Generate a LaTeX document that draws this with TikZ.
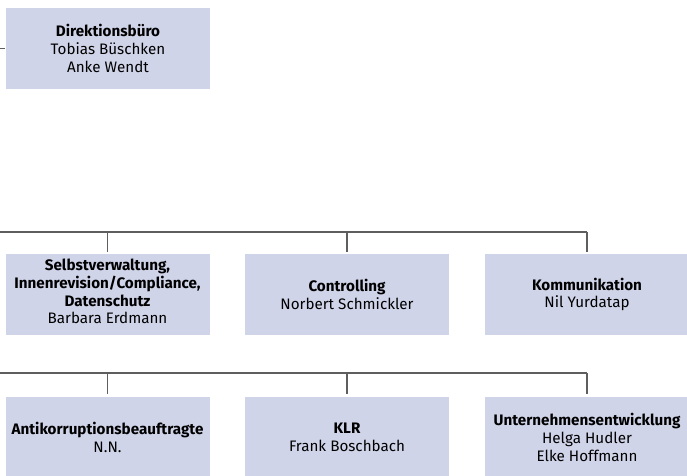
\documentclass[tikz,border=0pt]{standalone}
\usepackage{fontspec}
\setmainfont{Fira Sans}
\definecolor{boxfill}{HTML}{D0D4E9}
\definecolor{linegray}{HTML}{5E5E5E}
\begin{document}
\begin{tikzpicture}[x=1pt,y=-1pt,
  orgbox/.style={fill=boxfill, minimum width=204pt, minimum height=81pt, inner sep=0pt, align=center, font=\fontsize{15.2}{17.8}\selectfont},
  conn/.style={draw=linegray, line width=1.2pt}]
\useasboundingbox (0,0) rectangle (687,475);
\node[orgbox] (dir) at (108,48.5) {\textbf{Direktionsbüro}\\Tobias Büschken\\Anke Wendt};
\node[orgbox, text depth=6pt] (sv) at (107.5,294.5) {\textbf{Selbstverwaltung,}\\\textbf{Innenrevision/Compliance,}\\\textbf{Datenschutz}\\Barbara Erdmann};
\node[orgbox] (co) at (347,294.5) {\textbf{Controlling}\\Norbert Schmickler};
\node[orgbox] (ko) at (587,294.5) {\textbf{Kommunikation}\\Nil Yurdatap};
\node[orgbox] (ak) at (107.5,437.5) {\textbf{Antikorruptionsbeauftragte}\\N.N.};
\node[orgbox] (klr) at (347,437.5) {\textbf{KLR}\\Frank Boschbach};
\node[orgbox] (ue) at (587,437.5) {\textbf{Unternehmensentwicklung}\\Helga Hudler\\Elke Hoffmann};
\coordinate (dstub) at (0,48.5);
\coordinate (l2) at (0,232);
\coordinate (l3) at (0,373);
\draw[conn, shorten >=1pt] (dstub) -- (dir.west);
\draw[conn] (l2) -- (sv.north |- l2) -- (co.north |- l2) -- (ko.north |- l2);
\draw[conn, shorten >=2pt] (sv.north |- l2) -- (sv.north);
\draw[conn, shorten >=2pt] (co.north |- l2) -- (co.north);
\draw[conn, shorten >=2pt] (ko.north |- l2) -- (ko.north);
\draw[conn] (l3) -- (ak.north |- l3) -- (klr.north |- l3) -- (ue.north |- l3);
\draw[conn, shorten >=3pt] (ak.north |- l3) -- (ak.north);
\draw[conn, shorten >=3pt] (klr.north |- l3) -- (klr.north);
\draw[conn, shorten >=3pt] (ue.north |- l3) -- (ue.north);
\end{tikzpicture}
\end{document}
